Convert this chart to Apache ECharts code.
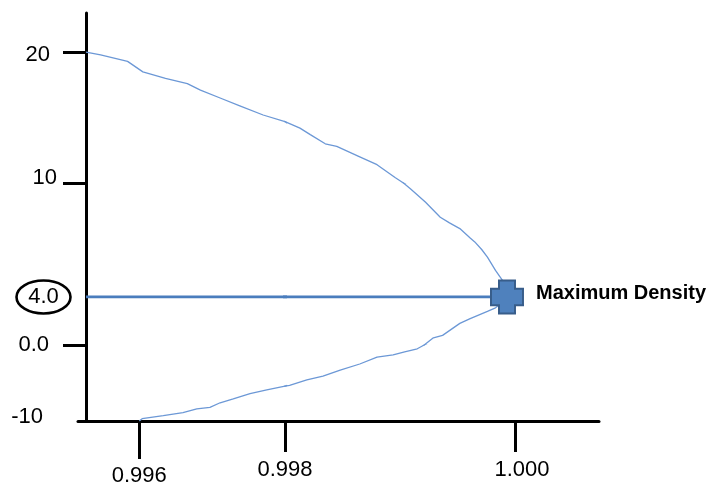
<!DOCTYPE html>
<html><head><meta charset="utf-8">
<script src="https://cdn.jsdelivr.net/npm/echarts@6/dist/echarts.min.js"></script>
<style>html,body{margin:0;padding:0;background:#fff}#c{width:712px;height:487px}</style>
</head><body><div id="c"></div>
<script>
// ---- data ----
// upper branch (water above 4 °C): density (g/cm3) and temperature (°C)
const upperDensity = [0.99527,0.99547,0.99584,0.99605,0.99636,0.99666,0.99684,0.99711,0.99738,0.99770,0.99800,0.99813,0.99822,0.99835,0.99845,0.99865,0.99880,0.99896,0.99903,0.99909,0.99922,0.99935,0.99943,0.99952,0.99961,0.99965,0.99971,0.99976,0.99983,0.99990,0.99993];
const upperTemp    = [20.0,19.8,19.3,18.5,18.0,17.6,17.1,16.5,15.9,15.2,14.7,14.2,13.7,13.0,12.8,12.0,11.4,10.4,10.0,9.7,9.0,8.2,7.9,7.6,7.1,6.9,6.5,6.1,5.4,4.8,4.0];
// lower branch (below 4 °C)
const lowerDensity = [0.99600,0.99604,0.99633,0.99660,0.99679,0.99697,0.99711,0.99729,0.99752,0.99775,0.99800,0.99804,0.99819,0.99833,0.99848,0.99865,0.99880,0.99894,0.99904,0.99915,0.99921,0.99929,0.99937,0.99952,0.99961,0.99976,0.99983,0.99990,0.99993];
const lowerTemp    = [-10.0,-9.7,-9.3,-8.9,-8.4,-8.2,-7.6,-7.1,-6.4,-5.9,-5.4,-5.3,-4.6,-4.1,-3.3,-2.5,-1.6,-1.3,-0.9,-0.5,0.0,0.6,0.8,1.8,2.2,2.8,3.1,3.6,4.0];
// maximum density point and the 4 °C guide line (starts at the temperature axis)
const maxDensity = 0.99993;
const maxTemp = 4.0;
const guideStartDensity = 0.99527;
const peakLabel = 'Maximum Density';
// tick labels
const xTickValues = [0.996, 0.998, 1.000];
const xTickLabels = ['0.996', '0.998', '1.000'];
const yTickValues = [20, 10, 4, 0, -10];
const yTickLabels = ['20', '10', '4.0', '0.0', '-10'];
const yTickMarks  = [20, 10, 0];

// ---- layout: the hand-drawn axes are uneven, so each stretch gets its own linear axis ----
const yRows = [
  {min: 10, max: 23, top: 13, height: 170, margin: 29},
  {min: 4, max: 10, top: 183, height: 114, margin: 14},
  {min: 0, max: 4, top: 297, height: 48, margin: 37},
  {min: -10, max: 0, top: 345, height: 76, margin: 43}
];
const xCols = [
  {min: 0.99516, max: 0.998, left: 78, width: 207, tickLen: 38, margin: 44},
  {min: 0.998, max: 1.00073, left: 285, width: 314, tickLen: 31, margin: 38}
];
const FONT = "'Liberation Sans', Arial, sans-serif";
const curveColor = '#6c98d6';
const lineBlue = '#4a7dbd';

const ellipseSvg = 'data:image/svg+xml;charset=utf-8,' + encodeURIComponent(
  '<svg xmlns="http://www.w3.org/2000/svg" width="57" height="36" viewBox="0 0 57 36">' +
  '<ellipse cx="28.5" cy="18" rx="27" ry="16.5" fill="none" stroke="#000" stroke-width="2.6"/></svg>');

const yRich = [
  {padding: [6, 7, 0, 0]},
  {padding: [0, 0, 10, 0]},
  {backgroundColor: {image: ellipseSvg}, width: 57, height: 36, lineHeight: 36, align: 'center'},
  {},
  {padding: [0, 0, 8, 0]}
];
const xRich = [{}, {}, {padding: [0, 0, 0, 14]}];
function richMap(arr, prefix) {
  const o = {};
  arr.forEach((s, k) => { o[prefix + k] = Object.assign({fontSize: 22, color: '#000', fontFamily: FONT}, s); });
  return o;
}

const upper = upperDensity.map((d, i) => [d, upperTemp[i]]);
const lower = lowerDensity.map((d, i) => [d, lowerTemp[i]]);
const guide = [[guideStartDensity, maxTemp], [maxDensity, maxTemp]];

const grid = [], xAxis = [], yAxis = [], series = [];
let idx = 0;
yRows.forEach((r, ri) => {
  const bottomRow = ri === yRows.length - 1;
  const peakRow = maxTemp >= r.min && maxTemp < r.max;
  xCols.forEach((c, ci) => {
    const i = idx++;
    const lastCol = ci === xCols.length - 1;
    grid.push({left: c.left, top: r.top, width: c.width, height: r.height, containLabel: false, outerBoundsMode: 'none'});
    const xLabs = xTickValues.filter(v => v >= c.min && (v < c.max || (lastCol && v <= c.max)));
    xAxis.push({
      gridIndex: i, type: 'value', min: c.min, max: c.max, show: bottomRow,
      axisLine: {show: true, onZero: false, lineStyle: {color: '#000', width: 3}},
      axisTick: {show: xLabs.length > 0, customValues: xLabs, length: c.tickLen, lineStyle: {color: '#000', width: 3}},
      axisLabel: {show: xLabs.length > 0, customValues: xLabs, margin: c.margin, fontSize: 22, color: '#000', fontFamily: FONT,
        formatter: v => { const k = xTickValues.indexOf(v); return '{x' + k + '|' + xTickLabels[k] + '}'; },
        rich: richMap(xRich, 'x')},
      splitLine: {show: false}
    });
    const yLabs = yTickValues.filter(v => v >= r.min && v < r.max);
    const yTicks = yTickMarks.filter(v => v >= r.min && v < r.max);
    yAxis.push({
      gridIndex: i, type: 'value', min: r.min, max: r.max, show: ci === 0, offset: -(86 - c.left),
      axisLine: {show: true, onZero: false, lineStyle: {color: '#000', width: 3}},
      axisTick: {show: yTicks.length > 0, customValues: yTicks, length: 23, lineStyle: {color: '#000', width: 3}},
      axisLabel: {show: yLabs.length > 0, customValues: yLabs, margin: r.margin, fontSize: 22, color: '#000', fontFamily: FONT,
        formatter: v => { const k = yTickValues.indexOf(v); return '{y' + k + '|' + yTickLabels[k] + '}'; },
        rich: richMap(yRich, 'y')},
      splitLine: {show: false}
    });
    const common = {xAxisIndex: i, yAxisIndex: i, type: 'line', symbol: 'none', showSymbol: false, silent: true, clip: true};
    series.push(Object.assign({}, common, {data: upper, lineStyle: {color: curveColor, width: 1.3}, z: 2}));
    series.push(Object.assign({}, common, {data: lower, lineStyle: {color: curveColor, width: 1.3}, z: 2}));
    if (peakRow) {
      series.push(Object.assign({}, common, {data: guide, lineStyle: {color: lineBlue, width: 3}, z: 3}));
    }
    if (peakRow && maxDensity >= c.min && maxDensity <= c.max) {
      series.push({
        type: 'scatter', xAxisIndex: i, yAxisIndex: i, clip: false, silent: true, z: 5,
        data: [[maxDensity, maxTemp]],
        symbol: 'path://M8,0H24V8H32V24H24V32H8V24H0V8H8Z', symbolSize: [32, 33],
        itemStyle: {color: '#4f81bd', borderColor: '#385d8a', borderWidth: 2, opacity: 1},
        label: {show: true, position: 'right', distance: 12, offset: [0, -4], formatter: peakLabel,
          fontSize: 20, fontWeight: 'bold', color: '#000', fontFamily: FONT}
      });
    }
  });
});

const chart = echarts.init(document.getElementById('c'));
chart.setOption({animation: false, backgroundColor: '#fff', grid, xAxis, yAxis, series});
</script>
</body></html>
